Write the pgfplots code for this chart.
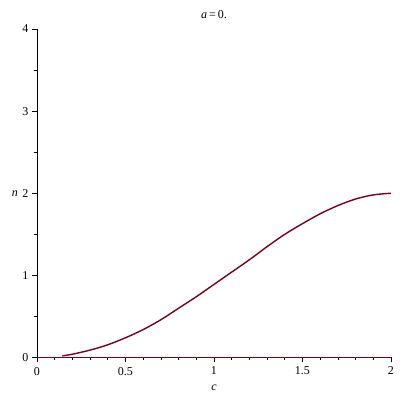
\documentclass[border=0pt]{standalone}
\usepackage{fontspec}
\setmainfont{Liberation Serif}
\usepackage{pgfplots}
\pgfplotsset{compat=1.18}
\definecolor{maplered}{RGB}{120,0,25}
\begin{document}
\begin{tikzpicture}[x=1pt,y=1pt]
\useasboundingbox (0,0) rectangle (400,400);
\begin{axis}[
  at={(37pt,42.5pt)}, anchor=south west,
  scale only axis, width=354pt, height=328.5pt,
  xmin=0, xmax=2, ymin=0, ymax=4,
  axis lines=left, axis line style={-, black, line width=0.8pt},
  tick align=outside,
  xtick={0,0.5,1,1.5,2}, xticklabels={0,0.5,1,1.5,2},
  ytick={0,1,2,3,4}, yticklabels={0,1,2,3,4},
  minor x tick num=4, minor y tick num=1,
  major tick length=5pt, minor tick length=3pt,
  tick style={black, line width=0.6pt},
  /pgf/number format/assume math mode=true,
  every tick label/.append style={font=\fontsize{12}{14}\selectfont},
  xticklabel style={yshift=-1pt},
  title={\textit{a}\,=\,0.},
  title style={at={(axis description cs:0.5,1)}, anchor=base, yshift=5pt, font=\fontsize{12}{14}\selectfont},
  xlabel={\textit{c}},
  xlabel style={at={(axis description cs:0.5,0)}, anchor=center, yshift=-30pt, font=\fontsize{12}{14}\selectfont},
  ylabel={\textit{n}},
  ylabel style={at={(axis description cs:0,0.5)}, anchor=center, rotate=-90, xshift=-22pt, font=\fontsize{12}{14}\selectfont},
  clip=false,
]
\addplot[maplered, line width=1.4pt] coordinates {(0,0) (2,0)};
\addplot[maplered, line width=1.4pt, smooth] coordinates {
(0.143,0.02) (0.2,0.04) (0.3,0.09) (0.4,0.155) (0.5,0.24) (0.6,0.34)
(0.7,0.46) (0.8,0.6) (0.9,0.74) (1.0,0.89) (1.1,1.04) (1.2,1.19)
(1.3,1.35) (1.4,1.50) (1.5,1.63) (1.6,1.75) (1.7,1.85) (1.8,1.93)
(1.9,1.98) (2.0,2.0)
};
\end{axis}
\end{tikzpicture}
\end{document}
